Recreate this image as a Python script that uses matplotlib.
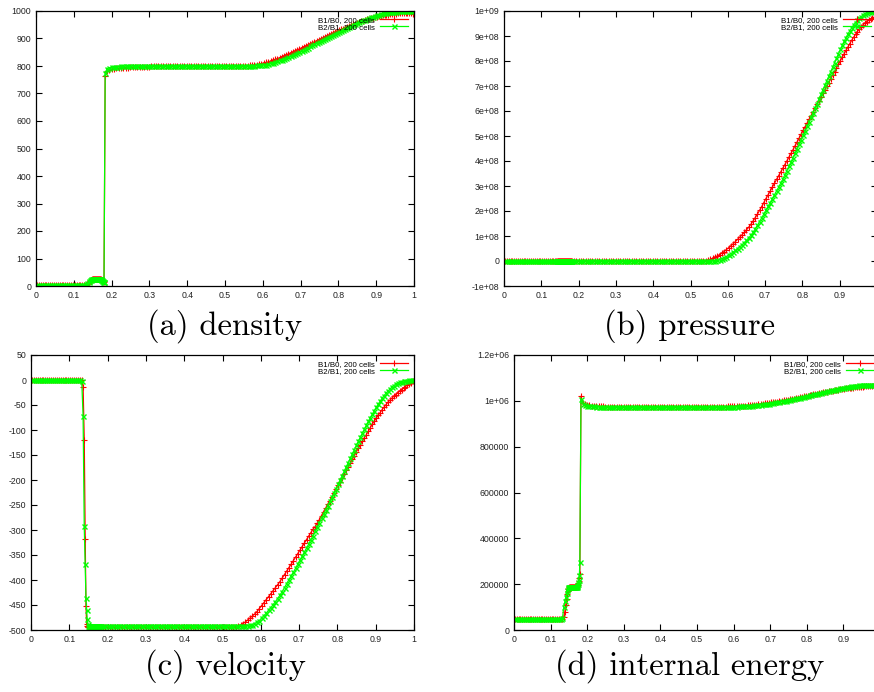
import matplotlib
matplotlib.use("Agg")
import matplotlib.pyplot as plt
from matplotlib.ticker import FixedLocator, FixedFormatter

# ---------------------------------------------------------------------------
# Cell-centre positions (200 cells, moving mesh: compressed behind the shock)
# ---------------------------------------------------------------------------
x_cells = [
    0.0025, 0.0075, 0.0125, 0.0175, 0.0225, 0.0275, 0.0325, 0.0375, 0.0425, 0.0475,
    0.0525, 0.0575, 0.0625, 0.0675, 0.0725, 0.0775, 0.0825, 0.0875, 0.0925, 0.0975,
    0.1025, 0.1075, 0.1125, 0.1175, 0.1225, 0.1275, 0.1325, 0.1360, 0.1390, 0.1415,
    0.1435, 0.1452, 0.1468, 0.1484, 0.1500, 0.1513, 0.1526, 0.1539, 0.1552, 0.1565,
    0.1578, 0.1591, 0.1604, 0.1617, 0.1630, 0.1643, 0.1656, 0.1669, 0.1682, 0.1695,
    0.1708, 0.1721, 0.1734, 0.1747, 0.1760, 0.1773, 0.1786, 0.1799, 0.1830, 0.1880,
    0.1938, 0.2000, 0.2062, 0.2124, 0.2186, 0.2248, 0.2310, 0.2372, 0.2434, 0.2496,
    0.2558, 0.2620, 0.2682, 0.2744, 0.2806, 0.2868, 0.2930, 0.2992, 0.3054, 0.3116,
    0.3178, 0.3240, 0.3302, 0.3364, 0.3426, 0.3488, 0.3550, 0.3612, 0.3674, 0.3736,
    0.3798, 0.3860, 0.3922, 0.3984, 0.4046, 0.4108, 0.4170, 0.4232, 0.4294, 0.4356,
    0.4418, 0.4480, 0.4542, 0.4604, 0.4666, 0.4728, 0.4790, 0.4852, 0.4914, 0.4976,
    0.5038, 0.5100, 0.5162, 0.5224, 0.5286, 0.5348, 0.5410, 0.5472, 0.5534, 0.5596,
    0.5657, 0.5718, 0.5779, 0.5840, 0.5901, 0.5962, 0.6023, 0.6084, 0.6145, 0.6206,
    0.6265, 0.6324, 0.6383, 0.6442, 0.6501, 0.6560, 0.6619, 0.6678, 0.6737, 0.6796,
    0.6853, 0.6910, 0.6967, 0.7024, 0.7081, 0.7138, 0.7195, 0.7252, 0.7309, 0.7366,
    0.7421, 0.7476, 0.7531, 0.7586, 0.7641, 0.7696, 0.7751, 0.7806, 0.7861, 0.7916,
    0.7969, 0.8022, 0.8075, 0.8128, 0.8181, 0.8234, 0.8287, 0.8340, 0.8393, 0.8446,
    0.8498, 0.8550, 0.8602, 0.8654, 0.8706, 0.8758, 0.8810, 0.8862, 0.8914, 0.8966,
    0.9017, 0.9068, 0.9119, 0.9170, 0.9221, 0.9272, 0.9323, 0.9374, 0.9425, 0.9476,
    0.9526, 0.9576, 0.9626, 0.9676, 0.9726, 0.9776, 0.9826, 0.9876, 0.9926, 0.9976,
]

series_labels = ["B1/B0, 200 cells", "B2/B1, 200 cells"]

# ---------------------------------------------------------------------------
# Density
# ---------------------------------------------------------------------------
density_b1b0 = [
    5, 5, 5, 5, 5, 5, 5, 5, 5, 5,
    5, 5, 5, 5, 5, 5, 5, 5, 5, 5,
    5, 5, 5, 5, 5, 5, 5, 7, 10, 14,
    18, 21, 23, 24, 24, 24, 24, 24, 24, 24,
    24, 24, 24, 24, 24, 24, 24, 24, 24, 24,
    24, 23, 22, 21, 19, 18, 17, 16, 765, 780,
    786, 789, 790, 791, 792, 793, 793, 794, 794, 795,
    795, 796, 796, 797, 797, 798, 798, 798, 799, 799,
    799, 800, 800, 800, 800, 800, 800, 800, 800, 800,
    800, 800, 800, 800, 800, 800, 800, 800, 800, 800,
    800, 800, 800, 800, 800, 800, 800, 800, 800, 800,
    800, 800, 800, 800, 800, 800, 800, 800, 801, 801,
    802, 803, 804, 805, 807, 809, 811, 813, 815, 818,
    821, 824, 827, 830, 834, 837, 841, 844, 848, 851,
    855, 859, 862, 866, 870, 873, 877, 881, 884, 888,
    892, 895, 899, 902, 906, 910, 913, 917, 920, 924,
    927, 930, 933, 936, 940, 943, 946, 949, 952, 954,
    957, 960, 962, 965, 967, 970, 972, 974, 976, 978,
    980, 981, 983, 984, 985, 986, 987, 988, 989, 990,
    990, 991, 991, 992, 992, 992, 992, 992, 991, 990,
]
density_b2b1 = [
    5, 5, 5, 5, 5, 5, 5, 5, 5, 5,
    5, 5, 5, 5, 5, 5, 5, 5, 5, 5,
    5, 5, 5, 5, 5, 5, 6, 10, 15, 19,
    22, 23, 24, 24, 24, 24, 24, 24, 24, 24,
    24, 24, 24, 24, 24, 24, 24, 24, 24, 24,
    24, 23, 22, 20, 18, 16, 15, 14, 775, 790,
    794, 796, 797, 798, 798, 799, 799, 800, 800, 800,
    800, 800, 800, 800, 800, 800, 800, 800, 800, 800,
    800, 800, 800, 800, 800, 800, 800, 800, 800, 800,
    800, 800, 800, 800, 800, 800, 800, 800, 800, 800,
    800, 800, 800, 800, 800, 800, 800, 800, 800, 800,
    800, 800, 800, 800, 800, 800, 800, 800, 800, 800,
    800, 801, 801, 802, 803, 803, 804, 805, 807, 810,
    812, 814, 817, 820, 823, 826, 829, 832, 835, 839,
    843, 847, 851, 855, 859, 863, 867, 871, 875, 879,
    883, 887, 890, 894, 898, 902, 906, 909, 913, 917,
    920, 924, 928, 932, 935, 939, 943, 946, 950, 953,
    956, 960, 963, 966, 969, 972, 975, 978, 980, 983,
    985, 987, 989, 991, 992, 994, 995, 996, 997, 998,
    998, 999, 999, 1000, 1000, 1000, 1000, 1000, 1000, 1000,
]

# ---------------------------------------------------------------------------
# Pressure, in units of 1e8 Pa
# ---------------------------------------------------------------------------
pressure_b1b0_1e8 = [
    0, 0, 0, 0, 0, 0, 0, 0, 0, 0,
    0, 0, 0, 0, 0, 0, 0, 0, 0, 0,
    0, 0, 0, 0, 0, 0, 0, 0, 0, 0,
    0, 0, 0, 0, 0, 0, 0, 0, 0, 0,
    0, 0, 0, 0, 0, 0, 0, 0, 0, 0,
    0, 0, 0, 0, 0, 0, 0, 0, 0, 0,
    0, 0, 0, 0, 0, 0, 0, 0, 0, 0,
    0, 0, 0, 0, 0, 0, 0, 0, 0, 0,
    0, 0, 0, 0, 0, 0, 0, 0, 0, 0,
    0, 0, 0, 0, 0, 0, 0, 0, 0, 0,
    0, 0, 0, 0, 0, 0, 0, 0, 0, 0,
    0, 0, 0, 0, 0.005, 0.01, 0.02, 0.04, 0.07, 0.11,
    0.16, 0.20, 0.26, 0.32, 0.38, 0.46, 0.53, 0.61, 0.69, 0.78,
    0.87, 0.96, 1.05, 1.15, 1.25, 1.35, 1.47, 1.60, 1.74, 1.88,
    2.03, 2.18, 2.34, 2.50, 2.65, 2.80, 2.96, 3.11, 3.27, 3.42,
    3.56, 3.71, 3.86, 4.01, 4.16, 4.31, 4.46, 4.62, 4.77, 4.93,
    5.08, 5.23, 5.38, 5.52, 5.67, 5.82, 5.97, 6.12, 6.27, 6.42,
    6.56, 6.71, 6.85, 7.00, 7.14, 7.29, 7.43, 7.58, 7.72, 7.87,
    8.01, 8.15, 8.29, 8.43, 8.56, 8.70, 8.83, 8.95, 9.07, 9.18,
    9.28, 9.37, 9.45, 9.52, 9.58, 9.63, 9.68, 9.72, 9.75, 9.78,
]
pressure_b2b1_1e8 = [
    0, 0, 0, 0, 0, 0, 0, 0, 0, 0,
    0, 0, 0, 0, 0, 0, 0, 0, 0, 0,
    0, 0, 0, 0, 0, 0, 0, 0, 0, 0,
    0, 0, 0, 0, 0, 0, 0, 0, 0, 0,
    0, 0, 0, 0, 0, 0, 0, 0, 0, 0,
    0, 0, 0, 0, 0, 0, 0, 0, 0, 0,
    0, 0, 0, 0, 0, 0, 0, 0, 0, 0,
    0, 0, 0, 0, 0, 0, 0, 0, 0, 0,
    0, 0, 0, 0, 0, 0, 0, 0, 0, 0,
    0, 0, 0, 0, 0, 0, 0, 0, 0, 0,
    0, 0, 0, 0, 0, 0, 0, 0, 0, 0,
    0, 0, 0, 0, 0, 0, 0, 0, 0, 0.01,
    0.02, 0.03, 0.06, 0.09, 0.13, 0.18, 0.24, 0.30, 0.36, 0.43,
    0.50, 0.57, 0.65, 0.74, 0.83, 0.92, 1.03, 1.15, 1.29, 1.43,
    1.58, 1.73, 1.88, 2.04, 2.19, 2.34, 2.50, 2.65, 2.81, 2.96,
    3.12, 3.28, 3.45, 3.62, 3.79, 3.96, 4.14, 4.32, 4.49, 4.67,
    4.85, 5.03, 5.21, 5.39, 5.57, 5.76, 5.94, 6.12, 6.30, 6.49,
    6.67, 6.85, 7.03, 7.21, 7.39, 7.57, 7.75, 7.93, 8.11, 8.29,
    8.46, 8.63, 8.79, 8.94, 9.08, 9.21, 9.33, 9.44, 9.54, 9.63,
    9.71, 9.78, 9.84, 9.89, 9.93, 9.96, 9.98, 9.99, 10.0, 10.0,
]

# ---------------------------------------------------------------------------
# Velocity
# ---------------------------------------------------------------------------
velocity_b1b0 = [
    0, 0, 0, 0, 0, 0, 0, 0, 0, 0,
    0, 0, 0, 0, 0, 0, 0, 0, 0, 0,
    0, 0, 0, 0, 0, 0, 0, -13, -119, -317,
    -451, -487, -492, -494, -494, -494, -494, -494, -494, -494,
    -494, -494, -494, -494, -494, -494, -494, -494, -494, -494,
    -494, -494, -494, -494, -494, -494, -494, -494, -494, -494,
    -494, -494, -494, -494, -494, -494, -494, -494, -494, -494,
    -494, -494, -494, -494, -494, -494, -494, -494, -494, -494,
    -494, -494, -494, -494, -494, -494, -494, -494, -494, -494,
    -494, -494, -494, -494, -494, -494, -494, -494, -494, -494,
    -494, -494, -494, -494, -494, -494, -494, -494, -494, -494,
    -494, -494, -494, -494, -494, -493, -492, -490, -487, -484,
    -480, -476, -472, -468, -463, -457, -451, -445, -439, -433,
    -427, -421, -415, -409, -403, -396, -389, -382, -375, -368,
    -361, -354, -347, -340, -333, -326, -319, -312, -305, -298,
    -293, -286, -279, -271, -263, -256, -248, -241, -233, -225,
    -217, -210, -203, -195, -188, -180, -173, -166, -158, -151,
    -143, -136, -129, -122, -115, -109, -102, -95, -88, -82,
    -76, -70, -65, -59, -54, -49, -44, -40, -36, -32,
    -29, -25, -22, -19, -16, -13, -10, -7, -5, -2,
]
velocity_b2b1 = [
    0, 0, 0, 0, 0, 0, 0, 0, 0, 0,
    0, 0, 0, 0, 0, 0, 0, 0, 0, 0,
    0, 0, 0, 0, 0, 0, -2, -72, -292, -368,
    -436, -460, -477, -487, -491, -491, -491, -491, -491, -491,
    -491, -491, -491, -491, -491, -491, -491, -491, -491, -491,
    -491, -491, -491, -491, -491, -491, -491, -491, -491, -491,
    -491, -491, -491, -491, -491, -491, -491, -491, -491, -491,
    -491, -491, -491, -491, -491, -491, -491, -491, -491, -491,
    -491, -491, -491, -491, -491, -491, -491, -491, -491, -491,
    -491, -491, -491, -491, -491, -491, -491, -491, -491, -491,
    -491, -491, -491, -491, -491, -491, -491, -491, -491, -491,
    -491, -491, -491, -491, -491, -491, -491, -491, -491, -491,
    -491, -490, -489, -487, -484, -481, -476, -471, -466, -460,
    -455, -449, -443, -437, -430, -423, -415, -407, -399, -391,
    -384, -376, -368, -360, -352, -344, -336, -328, -319, -311,
    -302, -294, -285, -276, -268, -259, -251, -242, -234, -225,
    -217, -208, -199, -191, -182, -173, -165, -156, -147, -139,
    -130, -122, -114, -106, -98, -90, -82, -75, -68, -61,
    -54, -48, -42, -36, -31, -26, -22, -18, -14, -11,
    -8, -6, -4, -3, -2, -1, -1, 0, 0, 0,
]

# ---------------------------------------------------------------------------
# Internal energy, in kJ/kg
# ---------------------------------------------------------------------------
energy_b1b0_kJ = [
    50, 50, 50, 50, 50, 50, 50, 50, 50, 50,
    50, 50, 50, 50, 50, 50, 50, 50, 50, 50,
    50, 50, 50, 50, 50, 50, 50, 57, 80, 110,
    135, 155, 170, 180, 184, 186, 187, 187, 187, 187,
    187, 187, 187, 187, 187, 187, 187, 187, 187, 187,
    188, 190, 193, 198, 205, 214, 226, 243, 1020, 992,
    985, 981, 980, 979, 978, 977, 977, 976, 976, 975,
    975, 975, 975, 975, 975, 975, 975, 975, 975, 975,
    975, 975, 975, 975, 975, 975, 975, 975, 975, 975,
    975, 975, 975, 975, 975, 975, 975, 975, 975, 975,
    975, 975, 975, 975, 975, 975, 975, 975, 975, 975,
    975, 975, 975, 975, 975, 975, 975, 975, 975, 975,
    975, 975, 975, 976, 976, 976, 976, 977, 977, 978,
    979, 979, 980, 981, 982, 983, 984, 985, 986, 988,
    989, 990, 991, 993, 994, 996, 997, 999, 1000, 1002,
    1004, 1005, 1007, 1009, 1010, 1012, 1014, 1015, 1017, 1019,
    1020, 1022, 1024, 1026, 1028, 1030, 1031, 1033, 1035, 1037,
    1039, 1040, 1042, 1044, 1045, 1047, 1048, 1049, 1050, 1052,
    1053, 1054, 1055, 1056, 1057, 1058, 1059, 1060, 1061, 1062,
    1062, 1063, 1064, 1064, 1065, 1065, 1066, 1066, 1066, 1066,
]
energy_b2b1_kJ = [
    50, 50, 50, 50, 50, 50, 50, 50, 50, 50,
    50, 50, 50, 50, 50, 50, 50, 50, 50, 50,
    50, 50, 50, 50, 50, 50, 52, 100, 125, 145,
    162, 175, 182, 186, 187, 188, 188, 188, 188, 188,
    188, 188, 188, 188, 188, 188, 188, 188, 188, 188,
    189, 191, 195, 201, 209, 220, 238, 295, 1008, 988,
    983, 979, 978, 977, 976, 975, 975, 974, 974, 973,
    973, 973, 973, 973, 973, 973, 973, 973, 973, 973,
    973, 973, 973, 973, 973, 973, 973, 973, 973, 973,
    973, 973, 973, 973, 973, 973, 973, 973, 973, 973,
    973, 973, 973, 973, 973, 973, 973, 973, 973, 973,
    973, 973, 973, 973, 973, 973, 973, 973, 973, 973,
    974, 974, 974, 974, 975, 975, 975, 975, 976, 976,
    977, 977, 978, 979, 979, 980, 981, 982, 983, 985,
    986, 987, 988, 990, 991, 993, 994, 996, 998, 1000,
    1001, 1003, 1005, 1007, 1009, 1011, 1012, 1014, 1016, 1018,
    1020, 1022, 1024, 1026, 1028, 1030, 1032, 1034, 1036, 1038,
    1040, 1042, 1044, 1046, 1048, 1049, 1051, 1053, 1054, 1056,
    1057, 1059, 1060, 1061, 1063, 1064, 1065, 1066, 1067, 1068,
    1068, 1069, 1069, 1070, 1070, 1071, 1071, 1071, 1071, 1071,
]

# ---------------------------------------------------------------------------
# Axis ticks and their labels (gnuplot-style formatting)
# ---------------------------------------------------------------------------
x_ticks = [0.0, 0.1, 0.2, 0.3, 0.4, 0.5, 0.6, 0.7, 0.8, 0.9, 1.0]
x_tick_labels = ["0", "0.1", "0.2", "0.3", "0.4", "0.5", "0.6", "0.7", "0.8", "0.9", "1"]

density_ticks = [0, 100, 200, 300, 400, 500, 600, 700, 800, 900, 1000]
density_tick_labels = ["0", "100", "200", "300", "400", "500", "600", "700", "800", "900", "1000"]

pressure_ticks = [-1e8, 0, 1e8, 2e8, 3e8, 4e8, 5e8, 6e8, 7e8, 8e8, 9e8, 1e9]
pressure_tick_labels = ["-1e+08", "0", "1e+08", "2e+08", "3e+08", "4e+08", "5e+08",
                        "6e+08", "7e+08", "8e+08", "9e+08", "1e+09"]

velocity_ticks = [50, 0, -50, -100, -150, -200, -250, -300, -350, -400, -450, -500]
velocity_tick_labels = ["50", "0", "-50", "-100", "-150", "-200", "-250", "-300",
                        "-350", "-400", "-450", "-500"]

energy_ticks = [0, 200000, 400000, 600000, 800000, 1000000, 1200000]
energy_tick_labels = ["0", "200000", "400000", "600000", "800000", "1e+06", "1.2e+06"]

captions = ["(a) density", "(b) pressure", "(c) velocity", "(d) internal energy"]

# ---------------------------------------------------------------------------
# Figure
# ---------------------------------------------------------------------------
W, H = 874, 692
fig = plt.figure(figsize=(W / 100, H / 100), dpi=100)
fig.patch.set_facecolor("white")

TICK_FONT = ["Liberation Sans", "DejaVu Sans"]
RED = "#ff0000"
GREEN = "#00ff00"


def axes_px(left, right, top, bottom):
    """Create axes from a pixel box measured from the top-left corner."""
    return fig.add_axes([left / W, 1 - bottom / H, (right - left) / W, (bottom - top) / H])


panels = [
    # box (px)               red series         green series       scale ylim          yticks          ylabels
    ((36, 414, 11, 286),   density_b1b0,      density_b2b1,      1.0, (0, 1000),   density_ticks,  density_tick_labels),
    ((504, 877, 11, 286),  pressure_b1b0_1e8, pressure_b2b1_1e8, 1e8, (-1e8, 1e9), pressure_ticks, pressure_tick_labels),
    ((31, 414, 355, 630),  velocity_b1b0,     velocity_b2b1,     1.0, (-500, 50),  velocity_ticks, velocity_tick_labels),
    ((514, 880, 355, 630), energy_b1b0_kJ,    energy_b2b1_kJ,    1e3, (0, 1.2e6),  energy_ticks,   energy_tick_labels),
]

for box, y_red, y_green, scale, ylim, yt, ytl in panels:
    ax = axes_px(*box)
    ax.plot(x_cells, [v * scale for v in y_red], color=RED, lw=0.9,
            marker="+", ms=4.0, mew=0.8, label=series_labels[0])
    ax.plot(x_cells, [v * scale for v in y_green], color=GREEN, lw=0.9,
            marker="x", ms=3.6, mew=1.0, label=series_labels[1])
    ax.set_xlim(0, 1)
    ax.set_ylim(*ylim)

    # panels whose right edge runs past the page only show ticks that fit
    n_x = len(x_ticks) if box[1] <= W else len(x_ticks) - 1
    ax.xaxis.set_major_locator(FixedLocator(x_ticks[:n_x]))
    ax.xaxis.set_major_formatter(FixedFormatter(x_tick_labels[:n_x]))
    ax.yaxis.set_major_locator(FixedLocator(yt))
    ax.yaxis.set_major_formatter(FixedFormatter(ytl))
    ax.minorticks_off()
    ax.tick_params(direction="in", length=4, width=0.8, top=True, right=True,
                   labelsize=6.3, pad=3.5, colors="black", labelcolor="#222222")
    for lbl in ax.get_xticklabels() + ax.get_yticklabels():
        lbl.set_fontfamily(TICK_FONT)
    for sp in ax.spines.values():
        sp.set_linewidth(0.9)
        sp.set_color("black")

    ax.legend(loc="upper right", frameon=False, markerfirst=False, numpoints=1,
              handlelength=3.6, handletextpad=0.7, labelspacing=-0.05,
              borderaxespad=0.35, borderpad=0.35,
              prop={"family": TICK_FONT, "size": 5.7})

caption_pos = [(225, 326), (690, 326), (225, 666), (690, 666)]
for text, (cx, cy) in zip(captions, caption_pos):
    fig.text(cx / W, 1 - cy / H, text, ha="center", va="center",
             fontsize=23.5, family=["cmr10", "DejaVu Serif"])

fig.savefig("out.png", dpi=100, facecolor="white")
